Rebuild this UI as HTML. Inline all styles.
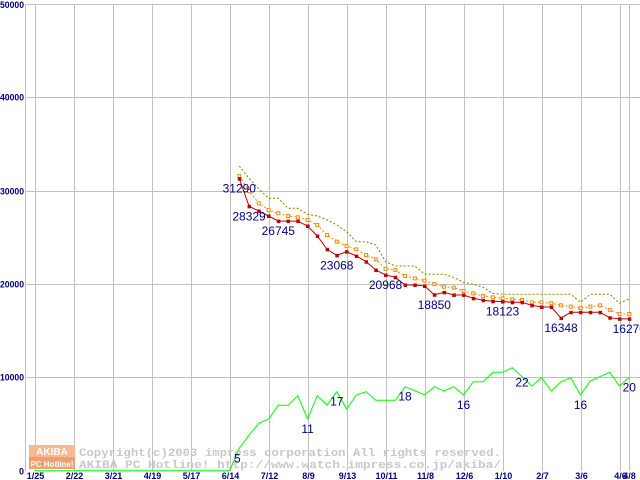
<!DOCTYPE html>
<html><head><meta charset="utf-8"><style>
html,body{margin:0;padding:0;background:#fff;}
svg{display:block;}
text{font-family:"Liberation Sans",sans-serif;}
</style></head><body>
<svg id="chart" width="640" height="480" xmlns="http://www.w3.org/2000/svg">
<rect x="0" y="0" width="640" height="480" fill="#fff"/>
<g id="grid"></g>
<g id="watermark">
 <rect x="29" y="445" width="46" height="12" fill="#f8b890"/>
 <rect x="29" y="457" width="46" height="12" fill="#f0a070"/>
 <text x="52" y="455" font-size="10" font-weight="bold" fill="#fff" text-anchor="middle">AKIBA</text>
 <text x="52" y="467" font-size="8" font-weight="bold" fill="#fff" text-anchor="middle">PC Hotline!</text>
 <text x="79" y="456" font-size="11" font-weight="bold" fill="#c8c8c8" textLength="422" lengthAdjust="spacingAndGlyphs" style="font-family:'Liberation Mono',monospace">Copyright(c)2003 impress corporation All rights reserved.</text>
 <text x="79" y="468" font-size="11" font-weight="bold" fill="#c8c8c8" textLength="422" lengthAdjust="spacingAndGlyphs" style="font-family:'Liberation Mono',monospace">AKIBA PC Hotline!  http://www.watch.impress.co.jp/akiba/</text>
</g>
<g id="series"></g>
<g id="labels"></g>
</svg>
<script>
const xTickLabels = ["1/25","2/22","3/21","4/19","5/17","6/14","7/12","8/9","9/13","10/11","11/8","12/6","1/10","2/7","3/6","4/6","4/8"];
const xTickIdx = [0,4,8,12,16,20,24,28,32,36,40,44,48,52,56,60,61];
const yTicks = [0,10000,20000,30000,40000,50000];
const startIdx = 21;
const minPrice = [31290,28329,27830,27290,26745,26745,26745,26220,25150,23720,23068,23470,23000,22390,21500,20968,20720,19900,19900,19790,18850,19110,18830,18830,18470,18260,18150,18123,18040,18040,17720,17540,17540,16348,16970,16970,16970,16970,16390,16270,16270];
const avgPrice = [31560,29970,28650,27930,27580,27290,27150,26860,26330,25250,24540,24080,23720,23110,22650,21640,21500,20860,20610,20360,20000,19710,19610,19250,19000,18720,18580,18470,18360,18290,18040,18040,17940,17720,17580,17440,17580,17720,17220,16790,16790];
const maxPrice = [32650,31300,30200,29190,29190,28120,28120,27470,27290,26860,26330,25610,24540,24540,24180,22390,21930,21930,21930,21070,21040,21040,20720,20180,19970,19650,19000,18900,18900,18900,18900,18900,18900,18900,18900,18040,18900,18900,18900,17940,18400];
const shopCount = [0,0,0,0,0,0,0,0,0,0,0,0,0,0,0,0,0,0,0,0,0,2400,3825,5080,5540,7010,7010,8040,5540,8040,7040,8460,6610,8110,8460,7540,7540,7540,9000,8570,8110,9000,8540,9000,8110,9540,9540,10540,10540,11040,10070,9080,9960,8540,9540,9960,8110,9610,10070,10540,9080,10010];
const priceLabels = [[0,"31290"],[1,"28329"],[4,"26745"],[10,"23068"],[15,"20968"],[20,"18850"],[27,"18123"],[33,"16348"],[40,"16270"]];
const countLabelIdx = [21,28,31,38,44,50,56,61];
const countLabelText = ["5","11","17","18","16","22","16","20"];

const NS="http://www.w3.org/2000/svg";
function X(i){return 34.55+i*9.75;}
function Y(v){return 470.7-v*0.009333;}
function mk(tag,attrs,parent){const e=document.createElementNS(NS,tag);for(const k in attrs)e.setAttribute(k,attrs[k]);parent.appendChild(e);return e;}
const grid=document.getElementById('grid'),ser=document.getElementById('series'),lab=document.getElementById('labels');

yTicks.forEach((t,k)=>{
 const y=Math.round(Y(t))+0.5;
 if(t>0){const l=mk('line',{x1:25,x2:640,y1:y,y2:y,stroke:'#c0c0c0','stroke-width':1},grid);
 
 }
 const s=String(t);
 const attrs={x:24,y:Math.max(y+3,8),'font-size':9,'font-weight':'bold',fill:'#000080','text-anchor':'end'};
 if(s.length>1){attrs.textLength=s.length*4.8;attrs.lengthAdjust='spacingAndGlyphs';}
 const tx=mk('text',attrs,grid);
 tx.textContent=s;
 
 
});
xTickIdx.forEach((ix,k)=>{
 const x=Math.round(X(ix))+0.5;
 const l=mk('line',{x1:x,x2:x,y1:4,y2:471,stroke:'#c0c0c0','stroke-width':1},grid);
 
 
 const tx=mk('text',{x:x,y:479,'font-size':9,'font-weight':'bold',fill:'#000080','text-anchor':'middle'},grid);
 tx.textContent=xTickLabels[k];
 
 
});
const ax=mk('line',{x1:25.5,x2:25.5,y1:4,y2:471,stroke:'#c0c0c0','stroke-width':1},grid);



function pts(arr,off){return arr.map((v,i)=>X(i+off).toFixed(1)+','+Y(v).toFixed(1)).join(' ');}
const g=mk('polyline',{points:pts(shopCount,0),fill:'none',stroke:'#00ff00','stroke-width':1},ser);


const mx=mk('polyline',{points:pts(maxPrice,startIdx),fill:'none',stroke:'#808000','stroke-width':1,'stroke-dasharray':'2,2'},ser);


const av=mk('polyline',{points:pts(avgPrice,startIdx),fill:'none',stroke:'#ff8800','stroke-width':1,'stroke-dasharray':'2,2'},ser);


avgPrice.forEach((v,i)=>{
 const r=mk('rect',{x:X(i+startIdx)-1.5,y:Y(v)-1.5,width:3,height:3,fill:'#fff',stroke:'#ff8800','stroke-width':1},ser);
 
 
});
const mn=mk('polyline',{points:pts(minPrice,startIdx),fill:'none',stroke:'#c00000','stroke-width':1},ser);


minPrice.forEach((v,i)=>{
 const r=mk('rect',{x:X(i+startIdx)-1.5,y:Y(v)-1.5,width:3.5,height:3.5,fill:'#c00000'},ser);
 
 
});
priceLabels.forEach(p=>{
 const i=p[0];
 const t=mk('text',{x:X(i+startIdx),y:Y(minPrice[i])+14,'font-size':12,fill:'#000080','text-anchor':'middle'},lab);
 t.textContent=p[1];
 
 
});
countLabelIdx.forEach((i,k)=>{
 const t=mk('text',{x:X(i)+(i===21?-2:0),y:Y(shopCount[i])+(k===5?10:14),'font-size':12,fill:'#000080','text-anchor':'middle'},lab);
 t.textContent=countLabelText[k];
 
 
});
</script>
</body></html>
